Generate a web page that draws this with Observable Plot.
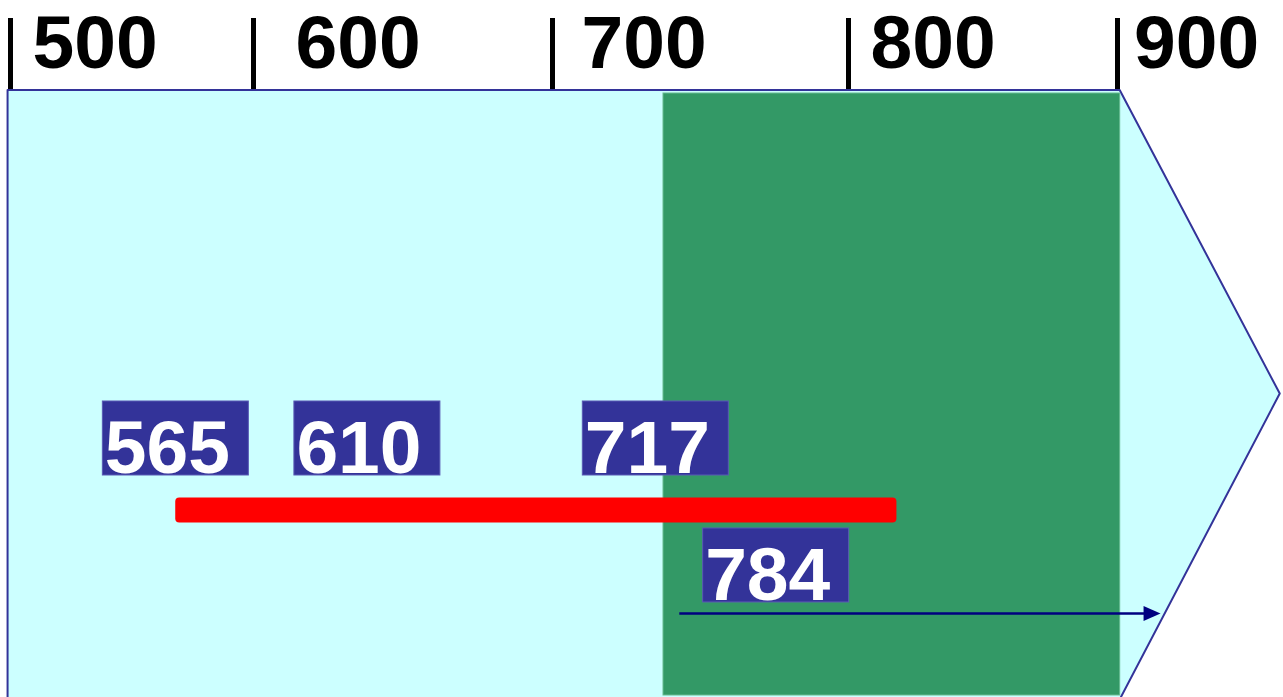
<!DOCTYPE html>
<html>
<head>
<meta charset="utf-8">
<script src="https://cdn.jsdelivr.net/npm/d3@7"></script>
<script src="https://cdn.jsdelivr.net/npm/@observablehq/plot@0.6"></script>
<style>
  html, body { margin: 0; padding: 0; background: #fff; overflow: hidden; }
</style>
</head>
<body>
<div id="chart"></div>
<script>
// ---------------- data ----------------
const tickValues   = [500, 600, 700, 800, 900];
const markerValues = [565, 610, 717, 784];
const markerRows   = ["upper", "upper", "upper", "lower"];
const rangeStart   = [568];
const rangeEnd     = [818];
const bandStart    = [737.5];
const bandEnd      = [901];
const trendStart   = [743];
const trendEnd     = [916];
const shapeStart   = [499];
const shapeBodyEnd = [901];
const shapeTip     = [960.5];

// ---------------- derived tables ----------------
const markers = markerValues.map((v, i) => ({value: v, row: markerRows[i], label: String(v)}));
const ranges  = rangeStart.map((s, i) => ({start: s, end: rangeEnd[i]}));
const bands   = bandStart.map((s, i) => ({start: s, end: bandEnd[i]}));
const trends  = trendStart.map((s, i) => ({start: s, end: trendEnd[i]}));
const pentagon = [
  {x: shapeStart[0],   top: 0,   bottom: 1.004},
  {x: shapeBodyEnd[0], top: 0,   bottom: 1.004},
  {x: shapeTip[0],     top: 0.5, bottom: 0.5}
];

// ---------------- layout ----------------
const font = "Liberation Sans, Arial, Helvetica, sans-serif";
const rowY = {upper: 0.5733, range: 0.692, lower: 0.7825, trend: 0.8616};
const labelNudge = {565: 7.4, 610: 84, 717: 53, 784: -25};
const tickNudge = {500: 22, 600: 42, 700: 29, 800: 22, 900: 16.5};
const arrowHead = {
  draw(ctx) {
    ctx.moveTo(8.5, 0);
    ctx.lineTo(-8.5, -7.5);
    ctx.lineTo(-8.5, 7.5);
    ctx.closePath();
  }
};

const marks = [
  Plot.axisX({anchor: "top", ticks: tickValues, tickSize: 73, strokeWidth: 5, stroke: "black",
              tickFormat: () => "", label: null}),
  Plot.area(pentagon, {x1: "x", y1: "top", y2: "bottom", fill: "#ccffff", stroke: "#333399", strokeWidth: 2}),
  Plot.rect(bands, {x1: "start", x2: "end", insetTop: 3, insetBottom: 2,
                    fill: "#339966", stroke: "#66bb8f", strokeWidth: 1}),
  Plot.rect(ranges, {x1: "start", x2: "end", y1: () => rowY.range, y2: () => rowY.range,
                     insetTop: -12.5, insetBottom: -12.5, rx: 4, fill: "#ff0000"}),
  ...markers.flatMap(m => [
    Plot.rect([m], {x1: "value", x2: "value", y1: d => rowY[d.row], y2: d => rowY[d.row],
                    insetLeft: -73, insetRight: -73, insetTop: -37, insetBottom: -37,
                    dx: labelNudge[m.value], fill: "#333399", stroke: "#5a5ab4", strokeWidth: 1}),
    Plot.text([m], {x: "value", y: d => rowY[d.row], text: "label",
                    dx: labelNudge[m.value] - 71, dy: 35, textAnchor: "start", lineAnchor: "bottom",
                    fill: "white", fontSize: 75, fontWeight: "bold", fontFamily: font})
  ]),
  Plot.ruleY(trends, {x1: "start", x2: "end", y: () => rowY.trend, insetRight: 14,
                      stroke: "#000080", strokeWidth: 2.7}),
  Plot.dot(trends, {x: "end", y: () => rowY.trend, symbol: arrowHead, dx: -8.5,
                    fill: "#000080", stroke: "none"}),
  ...tickValues.map(t =>
    Plot.text([t], {x: d => d, frameAnchor: "top", lineAnchor: "bottom", dy: -23, dx: tickNudge[t],
                    textAnchor: "start", text: d => String(d), fontSize: 75, fontWeight: "bold",
                    fill: "black", fontFamily: font})
  )
];

const chart = Plot.plot({
  width: 1283,
  height: 697,
  marginTop: 90,
  marginBottom: 0,
  marginLeft: 0,
  marginRight: 0,
  x: {type: "linear", domain: tickValues, range: [10, 253, 552, 848, 1117]},
  y: {domain: [0, 1], reverse: true, axis: null},
  style: {background: "white", fontFamily: font},
  marks
});
document.getElementById("chart").appendChild(chart);
</script>
</body>
</html>
